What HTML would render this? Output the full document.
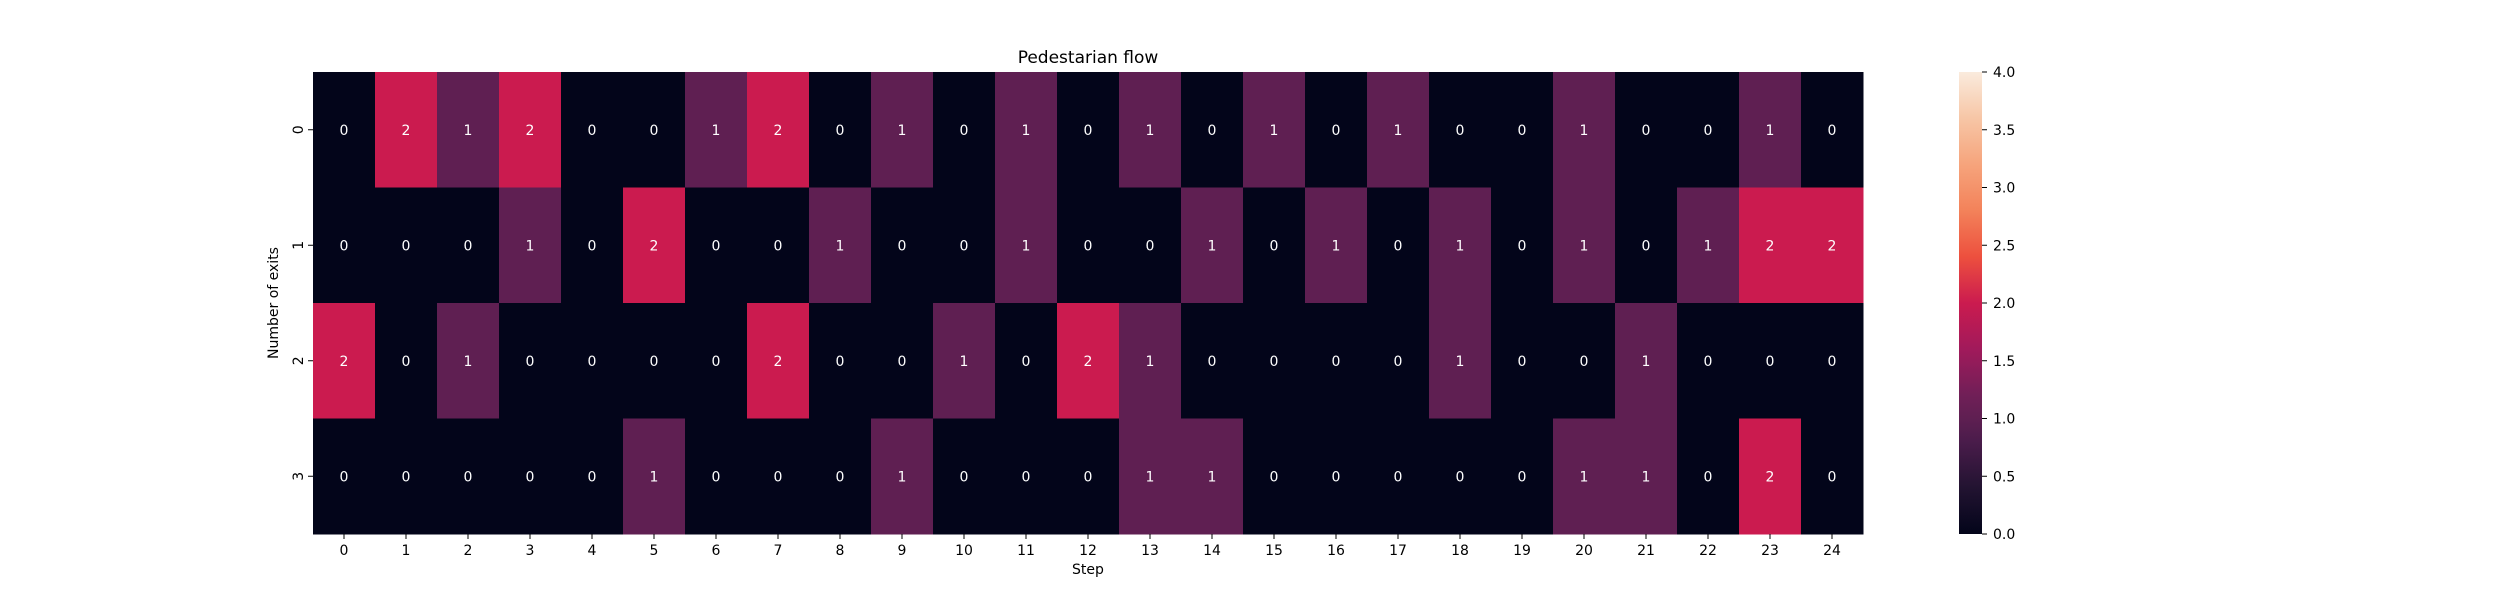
<!DOCTYPE html>
<html><head><meta charset="utf-8"><style>body{margin:0;background:#fff}svg text{font-family:"DejaVu Sans","Liberation Sans",sans-serif}</style></head>
<body>
<svg id="chart" width="2500" height="600" xmlns="http://www.w3.org/2000/svg">
<defs><linearGradient id="rocket" x1="0" y1="1" x2="0" y2="0">
<stop offset="0" stop-color="#03051a"/><stop offset="0.1" stop-color="#221331"/><stop offset="0.2" stop-color="#4a1c4b"/><stop offset="0.25" stop-color="#5f1f52"/><stop offset="0.3" stop-color="#701f57"/><stop offset="0.4" stop-color="#a11a5b"/><stop offset="0.5" stop-color="#cb1b4f"/><stop offset="0.6" stop-color="#ed503e"/><stop offset="0.7" stop-color="#f3825a"/><stop offset="0.8" stop-color="#f6a47c"/><stop offset="0.9" stop-color="#f7c6a6"/><stop offset="1" stop-color="#faebdd"/></linearGradient></defs>
<text x="1088" y="63" font-size="17" text-anchor="middle">Pedestarian flow</text>
<text x="1088" y="574" font-size="14" text-anchor="middle">Step</text>
<text transform="translate(278,303) rotate(-90)" font-size="14" text-anchor="middle">Number of exits</text>
<g id="cells"></g>
<g id="ticks"></g>
<rect x="1959" y="72" width="23" height="462" fill="url(#rocket)"/>
<g id="cbticks"></g>
</svg>
<script>
const steps = [0,1,2,3,4,5,6,7,8,9,10,11,12,13,14,15,16,17,18,19,20,21,22,23,24];
const exits = [0,1,2,3];
const row0 = [0,2,1,2,0,0,1,2,0,1,0,1,0,1,0,1,0,1,0,0,1,0,0,1,0];
const row1 = [0,0,0,1,0,2,0,0,1,0,0,1,0,0,1,0,1,0,1,0,1,0,1,2,2];
const row2 = [2,0,1,0,0,0,0,2,0,0,1,0,2,1,0,0,0,0,1,0,0,1,0,0,0];
const row3 = [0,0,0,0,0,1,0,0,0,1,0,0,0,1,1,0,0,0,0,0,1,1,0,2,0];
const cbTicks = ["0.0","0.5","1.0","1.5","2.0","2.5","3.0","3.5","4.0"];
const rows=[row0,row1,row2,row3];
const NS="http://www.w3.org/2000/svg";
const L=313,T=72,W=1550,H=462,vmax=4;
const cw=W/steps.length, ch=H/exits.length;
const xs=i=>L+i*cw, ys=j=>T+j*ch;
const colors={0:"#03051a",1:"#5f1f52",2:"#cb1b4f",3:"#f3825a",4:"#faebdd"};
function mk(tag,a,p){const e=document.createElementNS(NS,tag);for(const k in a)e.setAttribute(k,a[k]);p.appendChild(e);return e;}
const cells=document.getElementById('cells'),ticks=document.getElementById('ticks'),cb=document.getElementById('cbticks');
rows.forEach((r,j)=>r.forEach((v,i)=>{
 const c=mk('rect',{x:xs(i),y:ys(j),width:cw+0.5,height:ch+0.5,fill:colors[Math.round(v)]||"#03051a"},cells);
 
 
 const t=mk('text',{x:xs(i)+cw/2,y:ys(j)+ch/2+5,'font-size':14,fill:v>=3?'#000':'#fff','text-anchor':'middle'},cells);
 
 
 t.textContent=v;
}));
steps.forEach((s,i)=>{const x=xs(i)+cw/2;
 mk('line',{x1:x,x2:x,y1:T+H,y2:T+H+5,stroke:'#000'},ticks);
 const t=mk('text',{x:x,y:T+H+21,'font-size':14,'text-anchor':'middle'},ticks);
 
 
 t.textContent=s;});
exits.forEach((s,j)=>{const y=ys(j)+ch/2;
 mk('line',{x1:L-5,x2:L,y1:y,y2:y,stroke:'#000'},ticks);
 const t=mk('text',{transform:`translate(${L-10},${y}) rotate(-90)`,'font-size':14,'text-anchor':'middle'},ticks);
 
 
 t.textContent=s;});
cbTicks.forEach(s=>{const y=T+H-parseFloat(s)/vmax*H;
 mk('line',{x1:1982,x2:1987,y1:y,y2:y,stroke:'#000'},cb);
 const t=mk('text',{x:1993,y:y+5,'font-size':14},cb);
 
 
 t.textContent=s;});
</script>
</body></html>
